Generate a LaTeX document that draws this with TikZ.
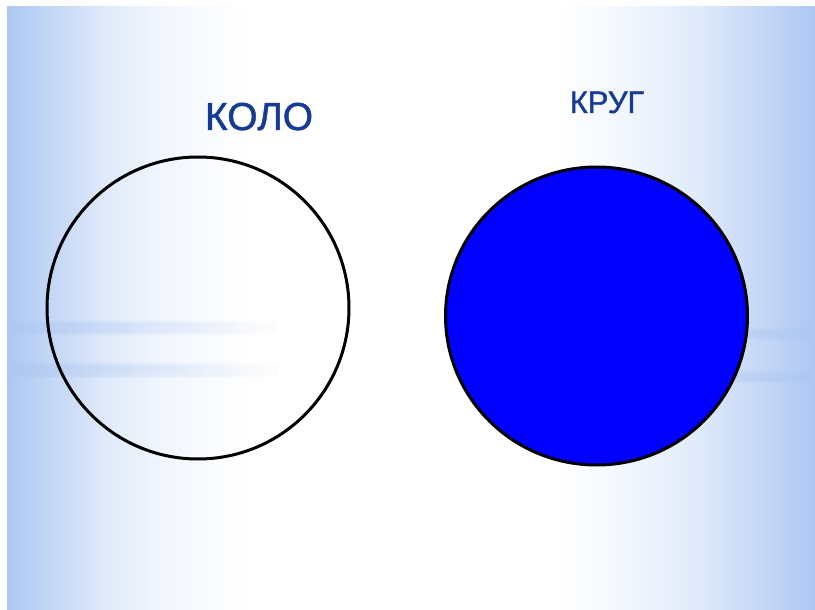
\documentclass[tikz,border=0pt]{standalone}
\usepackage{fontspec}
\setmainfont{Liberation Sans}
\newfontfamily\labelfont[FakeBold=1.2]{Liberation Sans}
\usetikzlibrary{fadings}
\definecolor{bgblue}{RGB}{174,200,243}
\definecolor{bgA}{RGB}{198,216,246}
\definecolor{bgB}{RGB}{222,233,250}
\definecolor{bgC}{RGB}{240,245,253}
\definecolor{txtblue}{RGB}{22,58,150}
\definecolor{fillblue}{RGB}{0,0,255}
\pgfdeclarehorizontalshading{slidebg}{100bp}{%
  color(0bp)=(bgblue); color(25bp)=(bgblue); color(28bp)=(bgA);
  color(31bp)=(bgB); color(34bp)=(bgC); color(40bp)=(white);
  color(59bp)=(white); color(64bp)=(bgC); color(68bp)=(bgB);
  color(71.5bp)=(bgA); color(75bp)=(bgblue); color(100bp)=(bgblue)}
\tikzset{
  ring/.style={draw=black, line width=3pt},
  label/.style={text=txtblue, inner sep=0pt, anchor=base},
  streak/.style={fill=bgblue, opacity=0.22}
}
\begin{document}
\begin{tikzpicture}[x=1pt,y=-1pt]
  \useasboundingbox (0,0) rectangle (815,610);
  \fill[white] (0,0) rectangle (815,610);
  \shade[shading=slidebg] (7,7) rectangle (815,610);
  % horizontal streaks (soft)
  \foreach \h in {0,3,6}{
    \fill[streak, path fading=east] (7,{320+\h/2}) rectangle (280,{335-\h/2});
    \fill[streak, path fading=east] (7,{362+\h/2}) rectangle (280,{378-\h/2});
    \fill[streak, path fading=west] (600,{327+\h/2}) rectangle (815,{340-\h/2});
    \fill[streak, path fading=west] (600,{370+\h/2}) rectangle (815,{383-\h/2});
  }
  % circles
  \draw[ring] (198,308) ellipse [x radius=151, y radius=151] node (kolo) {};
  \draw[ring, fill=fillblue] (596.5,316) ellipse [x radius=151, y radius=149] node (krug) {};
  % labels
  \node[label, font=\labelfont\fontsize{39}{39}\selectfont] (t1) at (259,130) {КОЛО};
  \node[label, font=\labelfont\fontsize{31}{31}\selectfont] (t2) at (607,113) {КРУГ};
\end{tikzpicture}
\end{document}
